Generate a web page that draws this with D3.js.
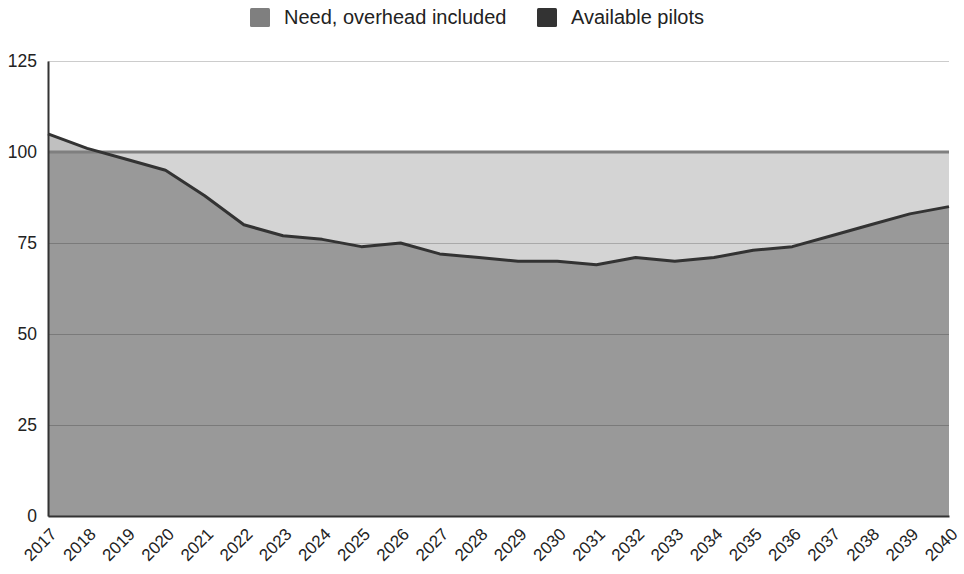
<!DOCTYPE html>
<html>
<head>
<meta charset="utf-8">
<script src="https://cdn.jsdelivr.net/npm/d3@7"></script>
<style>
  html, body { margin: 0; padding: 0; background: #fff; }
  svg { display: block; font-family: "Liberation Sans", Arial, sans-serif; }
</style>
</head>
<body>
<svg id="chart" width="964" height="574"></svg>
<script>
// Pilot supply vs. demand, 2017–2040
const years = d3.range(2017, 2041).map(String);
const need = years.map(() => 100);
const available = [105, 101, 98, 95, 88, 80, 77, 76, 74, 75, 72, 71, 70, 70, 69, 71, 70, 71, 73, 74, 77, 80, 83, 85];
const yTicks = [0, 25, 50, 75, 100, 125];
const seriesNames = ["Need, overhead included", "Available pilots"];

const svg = d3.select("#chart");
const margin = { left: 48, right: 15, top: 61, bottom: 58 };
const W = 964, H = 574;

const x = d3.scalePoint().domain(years).range([margin.left, W - margin.right]);
const y = d3.scaleLinear().domain([0, 125]).range([H - margin.bottom, margin.top]);

const area = vals => d3.area()
  .x((d, i) => x(years[i]))
  .y0(y(0))
  .y1(d => y(d))(vals);

// need area, then available area (light where it rises above need)
svg.append("path").attr("d", area(need)).attr("fill", "#d4d4d4");
svg.append("path").attr("d", area(available)).attr("fill", "#c0c0c0");

// overlap of both areas, darker
svg.append("clipPath").attr("id", "needClip")
  .append("path").attr("d", area(need));
svg.append("path").attr("d", area(available)).attr("fill", "#999")
  .attr("clip-path", "url(#needClip)");

// gridlines
const grid = svg.append("g")
  .attr("transform", `translate(${margin.left},0)`)
  .call(d3.axisLeft(y).tickValues(yTicks).tickSize(-(W - margin.left - margin.right)).tickFormat(""));
grid.select(".domain").remove();
grid.selectAll("line").attr("stroke", "rgba(0,0,0,0.2)").attr("stroke-width", 1);

// series lines
const line = vals => d3.line().x((d, i) => x(years[i])).y(d => y(d))(vals);
svg.append("path").attr("d", line(need)).attr("fill", "none")
  .attr("stroke", "#7f7f7f").attr("stroke-width", 3);
svg.append("path").attr("d", line(available)).attr("fill", "none")
  .attr("stroke", "#333").attr("stroke-width", 3).attr("stroke-linejoin", "round");

// y axis labels + vertical axis line
const yAxis = svg.append("g")
  .attr("transform", `translate(${margin.left},0)`)
  .call(d3.axisLeft(y).tickValues(yTicks).tickSize(0).tickPadding(11));
yAxis.select(".domain").attr("stroke", "#333").attr("stroke-width", 2);
yAxis.selectAll("text").attr("font-size", 17.5).attr("fill", "#222")
  .attr("font-family", "Liberation Sans, Arial, sans-serif");

// x axis
const xAxis = svg.append("g")
  .attr("transform", `translate(0,${y(0)})`)
  .call(d3.axisBottom(x).tickSize(0));
xAxis.select(".domain").attr("stroke", "#333").attr("stroke-width", 2);
xAxis.selectAll("text")
  .attr("font-size", 17).attr("fill", "#222")
  .attr("font-family", "Liberation Sans, Arial, sans-serif")
  .attr("text-anchor", "end")
  .attr("x", 0).attr("y", 0)
  .attr("dy", "0.35em")
  .attr("transform", "translate(5,15) rotate(-45)");

// legend
const legend = svg.append("g").attr("font-size", 20).attr("fill", "#222");
const legendItems = [
  { name: seriesNames[0], color: "#7f7f7f", x: 250 },
  { name: seriesNames[1], color: "#333333", x: 537 }
];
legendItems.forEach(it => {
  legend.append("rect").attr("x", it.x).attr("y", 8).attr("width", 20).attr("height", 19)
    .attr("rx", 1.5).attr("fill", it.color);
  legend.append("text").attr("x", it.x + 34).attr("y", 24).text(it.name);
});
</script>
</body>
</html>
